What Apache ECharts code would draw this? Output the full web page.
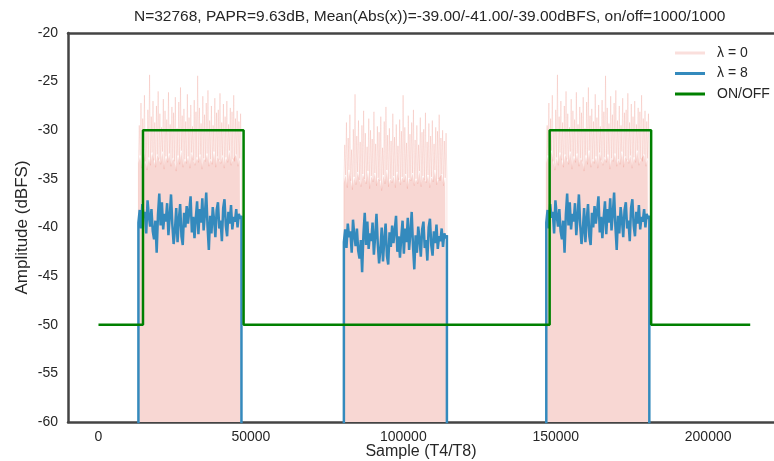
<!DOCTYPE html>
<html>
<head>
<meta charset="utf-8">
<script src="https://cdn.jsdelivr.net/npm/echarts@6/dist/echarts.min.js"></script>
<style>
html, body { margin: 0; padding: 0; background: #fff; }
#chart { width: 774px; height: 461px; }
</style>
</head>
<body>
<div id="chart"></div>
<script>
// bursts: start sample, length, mean level (dBFS, from the title)
var burstStart = [13100, 80500, 146900];
var burstLen = 33800;
var burstMean = [-39, -41, -39];

// lambda = 8 trace, deviation from burst mean (same shape in every burst)
var blueDev = [
    -0.5, 0.8, -1.1, 1.4, 0.0, 0.6, -1.6, 1.8, 0.2, -0.9,
    0.9, -1.4, -2.2, -0.3, -3.6, 0.3, 2.5, -0.8, 1.6, -1.2,
    0.4, -0.4, 1.5, -1.8, 0.1, 2.4, -0.7, -2.7, -1.3, 1.0,
    -2.5, -0.2, 1.4, -1.9, -2.8, 0.5, -1.0, 1.2, -0.6, 0.7,
    2.2, -1.5, 0.1, -2.1, 0.0, 1.7, -1.7, 0.9, -0.5, 2.0,
    -1.3, 0.4, 2.6, -0.9, -3.3, 0.2, -1.6, 1.1, -0.2, -2.0,
    0.8, 1.6, -1.1, -0.3, -2.4, 1.0, 1.9, -0.8, -1.9, 0.6,
    -0.6, 1.3, -1.2, 0.1, -0.4, 0.9, -1.0, 0.4, -0.1, 0.2
];

// lambda = 0 trace: spike tops and the dense body level, deviation from burst mean
var pinkPeak = [
    9.5, 11.8, 10.2, 12.6, 9.0, 11.1, 14.7, 10.4, 12.0, 9.8,
    11.5, 13.0, 10.7, 9.3, 12.2, 11.0, 10.1, 12.9, 9.6, 11.4,
    10.8, 12.4, 9.2, 11.9, 13.4, 10.5, 11.2, 9.9, 12.7, 10.3,
    11.6, 9.4, 12.1, 10.9, 14.6, 11.3, 9.7, 12.5, 10.6, 11.8,
    13.1, 10.0, 11.5, 9.5, 12.3, 10.8, 11.1, 12.8, 9.8, 11.7,
    10.4, 12.0, 9.6, 11.3, 10.9, 12.6, 10.2, 11.0, 9.9, 10.7
];
var pinkLow = [
    5.6, 6.4, 5.1, 6.9, 5.8, 4.9, 6.2, 5.4, 6.7, 5.9,
    5.2, 6.5, 6.0, 5.5, 6.8, 5.0, 6.3, 5.7, 6.6, 5.3,
    6.1, 5.8, 4.8, 6.4, 5.5, 6.9, 5.2, 6.0, 5.6, 6.3,
    5.1, 6.7, 5.9, 5.4, 6.2, 5.7, 6.5, 5.0, 6.1, 5.8,
    6.6, 5.3, 6.0, 5.5, 6.8, 5.2, 6.3, 5.9, 5.6, 6.4,
    5.1, 6.2, 5.7, 6.9, 5.4, 6.0, 5.8, 6.5, 5.3, 6.1
];

// ON/OFF gate
var onOffX = [0, 14600, 14600, 47600, 47600, 148000, 148000, 181300, 181300, 213800];
var onOffY = [-50, -50, -30, -30, -50, -50, -30, -30, -50, -50];

var xTicks = [0, 50000, 100000, 150000, 200000];
var FLOOR = -80; // below the axis, gets clipped

var blueData = [], spikeData = [], bodyData = [], gateData = [];
burstStart.forEach(function (s, b) {
    var m = burstMean[b];
    var step = burstLen / (blueDev.length - 1);
    blueData.push([s, FLOOR]);
    blueDev.forEach(function (d, i) {
        blueData.push([s + i * step, m + d]);
    });
    blueData.push([s + burstLen, FLOOR]);

    var pstep = burstLen / pinkPeak.length;
    spikeData.push([s, FLOOR]);
    bodyData.push([s, FLOOR]);
    pinkPeak.forEach(function (p, i) {
        spikeData.push([s + i * pstep, m + pinkLow[i]]);
        spikeData.push([s + (i + 0.5) * pstep, m + p]);
        bodyData.push([s + i * pstep, m + pinkLow[i]]);
    });
    spikeData.push([s + burstLen, m + pinkLow[pinkLow.length - 1]]);
    spikeData.push([s + burstLen, FLOOR]);
    bodyData.push([s + burstLen, m + pinkLow[pinkLow.length - 1]]);
    bodyData.push([s + burstLen, FLOOR]);
});
onOffX.forEach(function (x, i) { gateData.push([x, onOffY[i]]); });

var txt = '#262626';
var spine = { show: true, onZero: false, lineStyle: { color: '#444', width: 2.5 } };
var lineIcon = 'rect';

var option = {
    backgroundColor: '#fff',
    animation: false,
    textStyle: { fontFamily: 'Liberation Sans, Arial, sans-serif' },
    title: {
        text: 'N=32768, PAPR=9.63dB, Mean(Abs(x))=-39.00/-41.00/-39.00dBFS, on/off=1000/1000',
        left: 129,
        top: 4,
        textStyle: { fontSize: 15.5, fontWeight: 'normal', color: txt }
    },
    legend: {
        data: [
            { name: 'λ = 0', icon: lineIcon },
            { name: 'λ = 8', icon: lineIcon },
            { name: 'ON/OFF', icon: lineIcon }
        ],
        orient: 'vertical',
        left: 675,
        top: 46,
        padding: 0,
        itemWidth: 30,
        itemHeight: 3,
        itemGap: 6.5,
        textStyle: { fontSize: 14, color: txt, padding: [0, 0, 0, 7] }
    },
    grid: { left: 68, right: 0, top: 33, bottom: 39, outerBoundsMode: 'none' },
    xAxis: [{
        type: 'value',
        min: -10000,
        max: 221600,
        name: 'Sample (T4/T8)',
        nameLocation: 'middle',
        nameGap: 22,
        nameMoveOverlap: false,
        nameTextStyle: { fontSize: 16, color: txt },
        axisLine: spine,
        axisTick: { show: false },
        splitLine: { show: false },
        axisLabel: {
            customValues: xTicks, fontSize: 14, color: txt, margin: 8,
            formatter: function (v) { return String(v); }
        }
    }, {
        type: 'value',
        position: 'top',
        min: -10000,
        max: 221600,
        axisLine: spine,
        axisTick: { show: false },
        axisLabel: { show: false },
        splitLine: { show: false }
    }],
    yAxis: {
        type: 'value',
        min: -60,
        max: -20,
        interval: 5,
        name: 'Amplitude (dBFS)',
        nameLocation: 'middle',
        nameGap: 37,
        nameMoveOverlap: false,
        nameTextStyle: { fontSize: 17, color: txt },
        axisLine: spine,
        axisTick: { show: false },
        splitLine: { show: false },
        axisLabel: { fontSize: 14, color: txt, margin: 10 }
    },
    series: [{
        name: 'body',
        type: 'line',
        symbol: 'none',
        silent: true,
        lineStyle: { width: 0 },
        areaStyle: { color: '#f8d7d3', opacity: 1, origin: 'start' },
        data: bodyData
    }, {
        name: 'λ = 0',
        type: 'line',
        symbol: 'none',
        lineStyle: { color: 'rgba(235,120,105,0.2)', width: 1 },
        itemStyle: { color: 'rgba(240,150,140,0.3)' },
        data: spikeData
    }, {
        name: 'λ = 8',
        type: 'line',
        symbol: 'none',
        lineStyle: { color: '#348abd', width: 2.5 },
        itemStyle: { color: '#348abd' },
        data: blueData
    }, {
        name: 'ON/OFF',
        type: 'line',
        symbol: 'none',
        lineStyle: { color: '#008000', width: 2.5 },
        itemStyle: { color: '#008000' },
        data: gateData
    }]
};

echarts.init(document.getElementById('chart')).setOption(option);
</script>
</body>
</html>
